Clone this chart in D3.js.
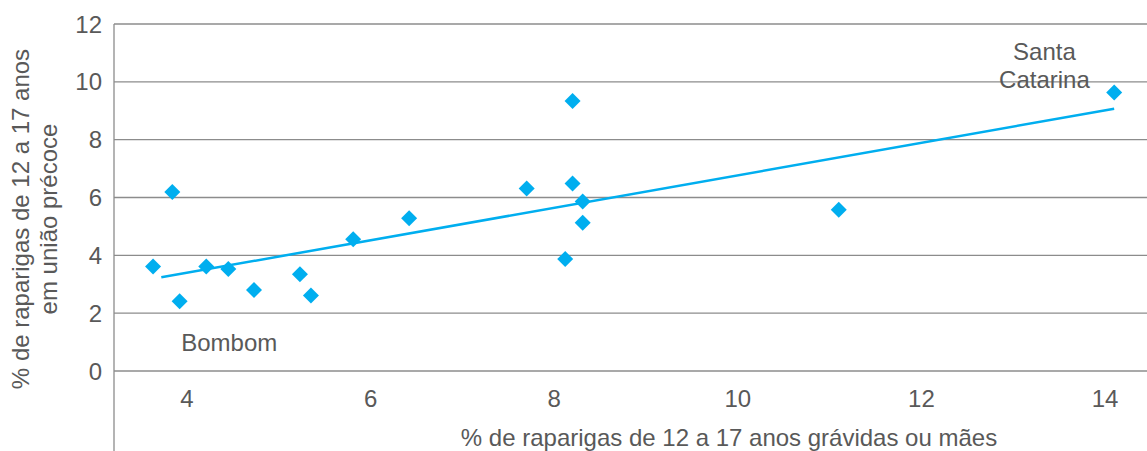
<!DOCTYPE html>
<html>
<head>
<meta charset="utf-8">
<script src="https://cdn.jsdelivr.net/npm/d3@7/dist/d3.min.js"></script>
<style>
  html, body { margin: 0; padding: 0; background: #fff; }
  svg { display: block; }
  text { font-family: "Liberation Sans", Arial, sans-serif; fill: #595959; }
</style>
</head>
<body>
<svg id="chart" width="1147" height="451"></svg>
<script>
// ---- Data ----
const pregnantPct = [3.63, 3.84, 3.92, 4.21, 4.45, 4.73, 5.23, 5.35, 5.81, 6.42,
                     7.70, 8.20, 8.20, 8.31, 8.31, 8.12, 11.10, 14.10];
const unionPct    = [3.61, 6.19, 2.41, 3.61, 3.53, 2.80, 3.35, 2.61, 4.56, 5.28,
                     6.31, 9.34, 6.48, 5.86, 5.13, 3.87, 5.58, 9.63];
const trendX = [3.72, 14.10];
const trendY = [3.24, 9.07];
const xTicks = [4, 6, 8, 10, 12, 14];
const yTicks = [0, 2, 4, 6, 8, 10, 12];
const xTitle = "% de raparigas de 12 a 17 anos grávidas ou mães";
const yTitleLines = ["% de raparigas de 12 a 17 anos", "em união précoce"];
const annotations = [
  { lines: ["Bombom"], x: 4.46, y: 1.0 },
  { lines: ["Santa", "Catarina"], x: 13.34, y: 11.04 }
];

// ---- Layout ----
const W = 1147, H = 451;
const axisX = 114;
const x = d3.scaleLinear().domain([4, 14]).range([187, 1105]);
const y = d3.scaleLinear().domain([0, 12]).range([371, 24]);
const blue = "#00AEEF";
const grid = "#8c8c8c";
const fs = 24;

const svg = d3.select("#chart");

// gridlines
svg.append("g").selectAll("line").data(yTicks).join("line")
  .attr("x1", axisX).attr("x2", W)
  .attr("y1", d => y(d)).attr("y2", d => y(d))
  .attr("stroke", grid).attr("stroke-width", 1.3);

// y axis line
svg.append("line")
  .attr("x1", axisX).attr("x2", axisX)
  .attr("y1", y(12)).attr("y2", H)
  .attr("stroke", grid).attr("stroke-width", 1.3);

// y tick labels
svg.append("g").selectAll("text").data(yTicks).join("text")
  .attr("x", 102).attr("y", d => y(d))
  .attr("text-anchor", "end").attr("dominant-baseline", "central")
  .style("font-size", fs + "px")
  .text(d => d);

// x tick labels
svg.append("g").selectAll("text").data(xTicks).join("text")
  .attr("x", d => x(d)).attr("y", y(0) + 27)
  .attr("text-anchor", "middle").attr("dominant-baseline", "central")
  .style("font-size", fs + "px")
  .text(d => d);

// x title
svg.append("text")
  .attr("x", 729).attr("y", 437)
  .attr("text-anchor", "middle").attr("dominant-baseline", "central")
  .style("font-size", fs + "px")
  .text(xTitle);

// y title
const yt = svg.append("text")
  .attr("transform", "translate(0,219) rotate(-90)")
  .attr("text-anchor", "middle")
  .style("font-size", fs + "px");
yTitleLines.forEach((l, i) => {
  yt.append("tspan").attr("x", 0).attr("y", 29 + i * 28).text(l);
});

// trend line
svg.append("line")
  .attr("x1", x(trendX[0])).attr("y1", y(trendY[0]))
  .attr("x2", x(trendX[1])).attr("y2", y(trendY[1]))
  .attr("stroke", blue).attr("stroke-width", 2.5);

// markers (diamonds)
const pts = pregnantPct.map((v, i) => ({ x: v, y: unionPct[i] }));
const diamond = d3.symbol().type(d3.symbolSquare).size(128);
svg.append("g").selectAll("path").data(pts).join("path")
  .attr("d", diamond)
  .attr("transform", d => `translate(${x(d.x)},${y(d.y)}) rotate(45)`)
  .attr("fill", blue);

// annotations
annotations.forEach(a => {
  const t = svg.append("text")
    .attr("text-anchor", "middle")
    .style("font-size", fs + "px");
  a.lines.forEach((l, i) => {
    t.append("tspan")
      .attr("x", x(a.x))
      .attr("y", y(a.y) + i * 27.5)
      .attr("dominant-baseline", "central")
      .text(l);
  });
});
</script>
</body>
</html>
